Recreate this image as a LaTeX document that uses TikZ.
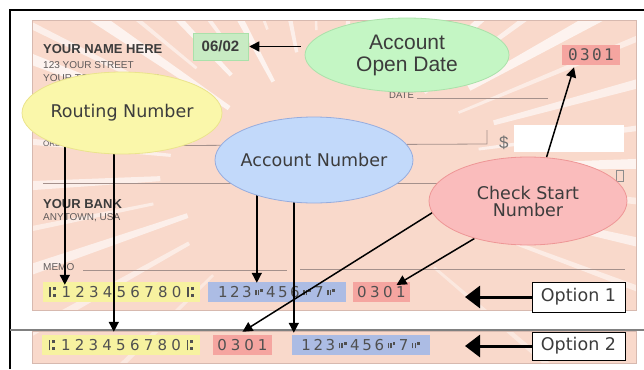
\documentclass[tikz,border=0pt]{standalone}
\usepackage{fontspec}
\setmainfont{Liberation Sans}
\newfontfamily\labelfont{DejaVu Sans}
\newfontfamily\micrfont{DejaVu Sans}
\newfontfamily\monofont{DejaVu Sans Mono}
\usetikzlibrary{arrows.meta,shapes.geometric}
\pgfdeclarelayer{front}
\pgfsetlayers{main,front}

\definecolor{checkbg}{RGB}{249,217,203}
\definecolor{checkedge}{RGB}{215,185,175}
\definecolor{ruleline}{RGB}{165,145,140}
\definecolor{inkgray}{RGB}{60,60,60}
\definecolor{printgray}{RGB}{95,90,90}
\definecolor{micrink}{RGB}{80,80,80}
\definecolor{routefill}{RGB}{250,247,170}
\definecolor{routeedge}{RGB}{235,228,140}
\definecolor{routebox}{RGB}{247,242,160}
\definecolor{acctfill}{RGB}{194,217,250}
\definecolor{acctedge}{RGB}{150,172,222}
\definecolor{acctbox}{RGB}{172,188,228}
\definecolor{chkfill}{RGB}{250,188,188}
\definecolor{chkedge}{RGB}{238,150,150}
\definecolor{chkbox}{RGB}{245,165,160}
\definecolor{datefill}{RGB}{196,246,196}
\definecolor{dateedge}{RGB}{170,225,170}
\definecolor{dateboxfill}{RGB}{200,235,195}

% E-13B transit and on-us symbols, built from bars
\newcommand\transitsym{\rule{1.5pt}{10pt}\hspace{1.6pt}\rlap{\rule[7pt]{3pt}{3pt}}\rule[0.5pt]{3pt}{3pt}}
\newcommand\onussym{\rule[2pt]{1.5pt}{5pt}\hspace{1.2pt}\rule[2pt]{1.5pt}{5pt}\hspace{1.2pt}\rule[5.5pt]{2.5pt}{2.5pt}}

% evenly spaced characters, as on a MICR line
\makeatletter
\newcommand\micr[2]{\def\micr@w{#1}\micr@loop#2\relax}
\def\micr@glyph#1{\ifx ⑆#1\transitsym\else\ifx ⑈#1\onussym\else #1\fi\fi}
\def\micr@loop#1{\ifx\relax#1\else\makebox[\micr@w][c]{\micr@glyph{#1}}\expandafter\micr@loop\fi}
\makeatother

\begin{document}
\begin{tikzpicture}[x=1pt,y=-1pt,
  bubble/.style={ellipse, draw, line width=0.8pt, inner sep=0pt},
  bubbletext/.style={inner sep=0pt, text=inkgray, align=center,
    font=\labelfont\fontsize{17.5}{17.5}\selectfont},
  codebox/.style={inner sep=0pt, minimum height=20pt, text=micrink,
    font=\micrfont\fontsize{15}{15}\selectfont},
  optbox/.style={draw=black, line width=0.8pt, fill=white, minimum width=93pt,
    inner sep=0pt, text=inkgray, font=\labelfont\fontsize{17.5}{17.5}\selectfont},
  printed/.style={inner sep=0pt, anchor=base west, text=printgray},
  pointer/.style={draw=black, line width=1.5pt, -{Triangle[length=10pt,width=10pt]}},
  bigpointer/.style={draw=black, line width=3pt, -{Triangle[length=15pt,width=22pt]}},
  rulestyle/.style={draw=ruleline, line width=0.8pt},
]
\useasboundingbox (0,0) rectangle (644,369);
\fill[white] (0,0) rectangle (644,369);

% cheque paper and the strip below it
\fill[checkbg] (32,20) rectangle (636,310);
\fill[checkbg] (32,331) rectangle (636,363);

% light rays
\begin{scope}
  \clip (32,20) rectangle (636,310) (32,331) rectangle (636,363);
  \foreach \a/\w/\r/\o in {200/2/120/.7, 206/1.2/150/.6, 213/2.5/110/.7, 219/1/160/.5,
      226/1.8/130/.7, 233/1.2/140/.6, 241/2.2/100/.7, 249/1/150/.5, 258/1.6/120/.6,
      268/1/140/.5, 280/1.5/130/.6, 289/2/110/.7, 296/1.2/140/.6, 303/2.4/150/.7,
      309/1/120/.5, 316/1.8/160/.7, 323/1.2/130/.6, 330/2.2/170/.7, 337/1/150/.5,
      344/1.6/180/.6, 352/1/160/.6, 358/1.8/190/.7, 5/1.2/200/.5, 12/1.6/180/.6,
      20/1/170/.5, 150/1.5/150/.5, 160/2/140/.6, 168/1/170/.5, 176/1.8/160/.6,
      185/1.2/150/.6, 192/2/130/.6, 40/1/150/.4, 135/1/150/.4}
    \fill[white, opacity=\o, shift={(320,170)}]
      (\a:\r) -- (\a:560) -- ({\a+\w}:560) -- ({\a+\w}:\r) -- cycle;
\end{scope}
\draw[checkedge, line width=0.6pt] (32,20) rectangle (636,310);
\draw[checkedge, line width=0.6pt] (32,331) rectangle (636,363);

% frame
\draw[black, line width=2pt] (10,369) -- (10,10) -- (644,10);
\draw[black!50, line width=1.2pt] (10,330) -- (644,330);

% printed cheque text and rules
\node[printed, text=inkgray, font=\bfseries\fontsize{13}{13}\selectfont] (owner) at (43,53) {YOUR NAME HERE};
\node[printed, font=\fontsize{10}{10}\selectfont] (street) at (43,68) {123 YOUR STREET};
\node[printed, font=\fontsize{10}{10}\selectfont] (town) at (43,81) {YOUR TOWN, STATE ZIP};
\node[printed, font=\fontsize{8}{8}\selectfont] (orderof) at (43,146) {ORDER OF};
\node[printed, font=\fontsize{9.5}{9.5}\selectfont] (datelbl) at (389,98) {DATE};
\draw[rulestyle] (datelbl.base east) ++(3,0) -- (548,98);
\draw[rulestyle] (orderof.base east) -- (487,144) -- (487,130);
\node[printed, text=black!55, font=\fontsize{17}{17}\selectfont] (dollar) at (499,148) {\$};
\node[fill=white, minimum width=110pt, minimum height=27pt, inner sep=0pt] (amount) at (569,138.5) {};
\draw[rulestyle] (43,183) -- (610,183);
\draw[black!45, line width=0.7pt] (616,170) rectangle (623,181);
\node[printed, text=inkgray, font=\bfseries\fontsize{13}{13}\selectfont] (bank) at (43,208) {YOUR BANK};
\node[printed, font=\fontsize{10}{10}\selectfont] (banktown) at (43,220) {ANYTOWN, USA};
\node[printed, font=\fontsize{10}{10}\selectfont] (memo) at (43,270) {MEMO};
\draw[rulestyle] (83,270) -- (287,270);
\draw[rulestyle] (300,269) -- (625,269);

% highlighted fields
\node[fill=dateboxfill, draw=dateedge, line width=0.5pt, minimum width=55pt, minimum height=27pt,
      inner sep=0pt, text=inkgray, font=\bfseries\fontsize{15}{15}\selectfont] (opendt) at (220.5,46.5) {06/02};
\node[fill=chkbox, minimum width=58pt, minimum height=20pt, inner sep=0pt, text=micrink,
      font=\monofont\fontsize{16}{16}\selectfont] (topnum) at (591,55) {\micr{12pt}{0301}};

\node[codebox, fill=routebox, minimum width=157pt] (rt1) at (121.5,292) {\micr{13.8pt}{⑆123456780⑆}};
\node[codebox, fill=acctbox, minimum width=138pt] (ac1) at (277,292) {\micr{12pt}{123⑈456⑈7⑈}};
\node[codebox, fill=chkbox, minimum width=57pt] (ck1) at (381.5,292) {\micr{13pt}{0301}};

\node[codebox, fill=routebox, minimum width=158pt] (rt2) at (121,345) {\micr{13.8pt}{⑆123456780⑆}};
\node[codebox, fill=chkbox, minimum width=59pt] (ck2) at (242.5,345) {\micr{13.5pt}{0301}};
\node[codebox, fill=acctbox, minimum width=138pt] (ac2) at (361,345) {\micr{12.2pt}{123⑈456⑈7⑈}};

\node[optbox, minimum height=30pt] (opt1) at (578.5,297) {Option 1};
\node[optbox, minimum height=28pt] (opt2) at (578.5,346) {Option 2};

% callouts
\begin{pgfonlayer}{front}
  \node[bubble, fill=routefill, draw=routeedge, minimum width=200pt, minimum height=82pt] (rn) at (122,113) {};
  \node[bubbletext] (rnT) at (rn) {Routing Number};
  \node[bubble, fill=acctfill, draw=acctedge, minimum width=198pt, minimum height=86pt] (an) at (314,160) {};
  \node[bubbletext] (anT) at (an) {Account Number};
  \node[bubble, fill=chkfill, draw=chkedge, minimum width=198pt, minimum height=88pt] (cs) at (528,201) {};
  \node[bubbletext, font=\labelfont\fontsize{17.5}{17}\selectfont] (csT) at (cs) {Check Start\\Number};
  \node[bubble, fill=datefill, draw=dateedge, minimum width=204pt, minimum height=74pt] (od) at (407,55) {};
  \node[bubbletext, font=\fontsize{21}{22}\selectfont] (odT) at (od) {Account\\Open Date};
\end{pgfonlayer}

% arrow tips
\coordinate (tipR1) at ([xshift=22pt,yshift=-3pt]rt1.north west);
\coordinate (tipR2) at ([xshift=72pt,yshift=3pt]rt2.north west);
\coordinate (tipA1) at ([xshift=49pt,yshift=-1pt]ac1.north west);
\coordinate (tipA2) at ([xshift=2pt,yshift=2pt]ac2.north west);
\coordinate (tipC1) at ([xshift=15pt,yshift=7pt]ck1.center);
\coordinate (tipC2) at ([yshift=3pt]ck2.north);
\coordinate (tipN) at ([xshift=-17pt,yshift=-2pt]topnum.south);
\coordinate (tipD) at ([xshift=1pt]opendt.east);
\coordinate (tipO1) at (465,297);
\coordinate (tipO2) at (465,346);

% connectors
\draw[pointer] (rn.center -| tipR1) -- (tipR1);
\draw[pointer] (rn.center -| tipR2) -- (tipR2);
\draw[pointer] (an.center -| tipA1) -- (tipA1);
\draw[pointer] (an.center -| tipA2) -- (tipA2);
\draw[pointer] (cs.187) -- (tipC2);
\draw[pointer] (cs.215) -- (tipC1);
\draw[pointer] (cs.67) -- (tipN);
\draw[pointer] ([xshift=-4pt]tipD -| od.west) -- (tipD);
\draw[bigpointer] (opt1.west) -- (tipO1);
\draw[bigpointer] (opt2.west) -- (tipO2);
\end{tikzpicture}
\end{document}
